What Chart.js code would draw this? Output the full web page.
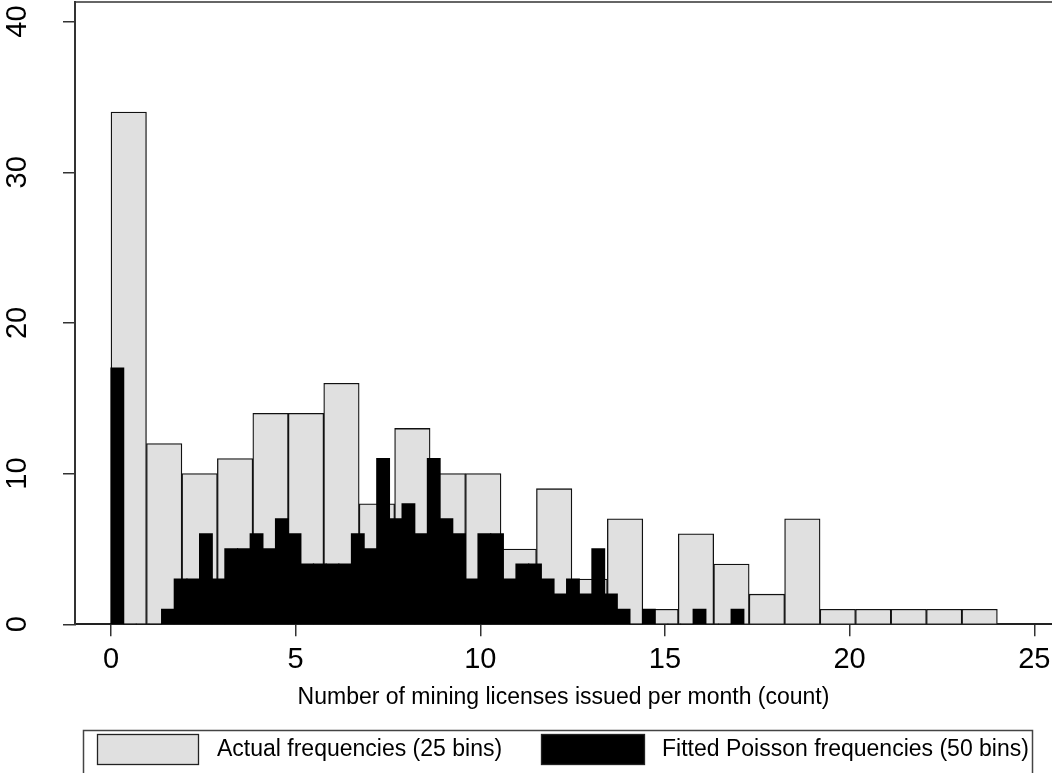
<!DOCTYPE html>
<html>
<head>
<meta charset="utf-8">
<script src="https://cdn.jsdelivr.net/npm/chart.js@4.4.0/dist/chart.umd.min.js"></script>
<style>
  html, body { margin: 0; padding: 0; background: #fff; }
  canvas { display: block; }
</style>
</head>
<body>
<canvas id="histCanvas" width="1052" height="773"></canvas>
<script>
// actual frequencies, 25 bins of width 0.96 starting at 0
const actualBinWidth = 0.96;
const actualCounts = [34, 12, 10, 11, 14, 14, 16, 8, 13, 10, 10, 5, 9, 3, 7, 1, 6, 4, 2, 7, 1, 1, 1, 1, 1];

// fitted poisson frequencies, 50 bins starting at 0
const poissonBinWidth = 0.3427;
const poissonCounts = [17, 0, 0, 0, 1, 3, 3, 6, 3, 5,
                       5, 6, 5, 7, 6, 4, 4, 4, 4, 6,
                       5, 11, 7, 8, 6, 11, 7, 6, 3, 6,
                       6, 3, 4, 4, 3, 2, 3, 2, 5, 2,
                       1, 0, 1, 0, 0, 0, 1, 0, 0, 1];

const xTicks = [0, 5, 10, 15, 20, 25];
const yTicks = [0, 10, 20, 30, 40];
const xLabel = "Number of mining licenses issued per month (count)";
const seriesLabels = ["Actual frequencies (25 bins)", "Fitted Poisson frequencies (50 bins)"];

const xMin = -0.975, xMax = 25.48;
const yMax = 41.3;

Chart.defaults.font.family = "'Liberation Sans', Arial, sans-serif";
Chart.defaults.color = "#000";

function toBins(counts, width) {
    return counts.map((c, i) => ({ x: (i + 0.5) * width, y: c }));
}

// legend drawn by hand so it sits in a framed strip like the original
const legendBox = {
    id: 'legendBox',
    afterDraw(chart) {
        const ctx = chart.ctx;
        const ds = chart.data.datasets;
        ctx.save();
        ctx.strokeStyle = "#444";
        ctx.lineWidth = 1.5;
        ctx.strokeRect(83.5, 730.5, 949, 60);

        const items = [
            { ds: ds[0], x: 97, w: 102, textX: 217 },
            { ds: ds[1], x: 541, w: 104, textX: 662 }
        ];
        ctx.font = "23px 'Liberation Sans', Arial, sans-serif";
        ctx.textBaseline = "middle";
        items.forEach(it => {
            ctx.fillStyle = it.ds.backgroundColor;
            ctx.fillRect(it.x, 734.5, it.w, 30);
            ctx.strokeStyle = "#222";
            ctx.lineWidth = 1.3;
            ctx.strokeRect(it.x + 0.5, 734.5, it.w - 1, 30);
            ctx.fillStyle = "#000";
            ctx.fillText(it.ds.label, it.textX, 750);
        });
        ctx.restore();
    }
};

const canvas = document.getElementById("histCanvas");
new Chart(canvas, {
    type: 'bar',
    plugins: [legendBox],
    data: {
        datasets: [{
            label: seriesLabels[0],
            data: toBins(actualCounts, actualBinWidth),
            xAxisID: 'x',
            backgroundColor: "#e0e0e0",
            borderColor: "#111",
            borderWidth: 1.3,
            categoryPercentage: 1,
            barPercentage: 1,
            grouped: false,
            order: 1
        }, {
            label: seriesLabels[1],
            data: toBins(poissonCounts, poissonBinWidth),
            xAxisID: 'x2',
            backgroundColor: "#000",
            borderWidth: 0,
            inflateAmount: 0.6,
            categoryPercentage: 1,
            barPercentage: 1,
            grouped: false,
            order: 0
        }]
    },
    options: {
        responsive: false,
        animation: false,
        layout: { padding: 0, autoPadding: false },
        plugins: {
            legend: { display: false },
            tooltip: { enabled: false }
        },
        scales: {
            x: {
                type: 'linear',
                position: 'bottom',
                min: xMin,
                max: xMax,
                offset: false,
                grid: { offset: false, drawOnChartArea: false, drawTicks: true, tickLength: 12, tickColor: "#333", lineWidth: 1.5 },
                border: { display: true, color: "#222", width: 2 },
                afterBuildTicks: (s) => { s.ticks = xTicks.map(v => ({ value: v })); },
                ticks: { font: { size: 29 }, padding: 6, color: "#000", maxRotation: 0 },
                title: { display: true, text: xLabel, font: { size: 23 }, color: "#000", padding: { top: 0, bottom: 62 } },
                afterFit: (s) => { s.height = 148.7; s.paddingLeft = s.paddingRight = 0; }
            },
            x2: {
                type: 'linear',
                position: 'top',
                min: xMin,
                max: xMax,
                offset: false,
                grid: { offset: false, drawOnChartArea: false, drawTicks: false },
                border: { display: true, color: "#666", width: 2 },
                afterBuildTicks: (s) => { s.ticks = xTicks.map(v => ({ value: v })); },
                ticks: { display: false },
                afterFit: (s) => { s.height = 2; s.paddingLeft = s.paddingRight = 0; }
            },
            y: {
                type: 'linear',
                min: 0,
                max: yMax,
                grid: { drawOnChartArea: false, drawTicks: true, tickLength: 12, tickColor: "#333", lineWidth: 1.5 },
                border: { display: true, color: "#333", width: 2 },
                afterBuildTicks: (s) => { s.ticks = yTicks.map(v => ({ value: v })); },
                ticks: { font: { size: 29 }, color: "#000", minRotation: 90, maxRotation: 90, crossAlign: 'center', padding: 28.6 },
                afterFit: (s) => { s.width = 75; s.paddingTop = s.paddingBottom = 0; }
            }
        }
    }
});
</script>
</body>
</html>
